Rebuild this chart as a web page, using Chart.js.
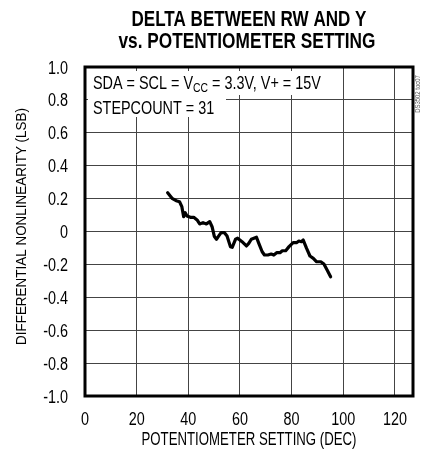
<!DOCTYPE html>
<html>
<head>
<meta charset="utf-8">
<script src="https://cdn.jsdelivr.net/npm/chart.js@4.4.1/dist/chart.umd.min.js"></script>
<style>
  html, body { margin: 0; padding: 0; background: #fff; }
  #wrap { width: 422px; height: 456px; }
</style>
</head>
<body>
<div id="wrap"><canvas id="dnlChart" width="422" height="456"></canvas></div>
<script>
// данные
const potSetting = [32.0, 33.7, 35.3, 36.6, 37.5, 38.2, 38.8, 39.5, 40.8, 42.1, 43.4, 44.4, 45.7, 47.0, 48.3, 49.2,
    50.1, 50.9, 51.8, 52.7, 54.0, 55.0, 56.3, 57.0, 58.3, 59.1, 60.8, 62.5, 63.4, 64.4, 65.4, 66.4, 67.3, 68.6,
    69.5, 70.8, 72.1, 73.1, 74.2, 75.5, 76.4, 77.7, 79.0, 80.6, 81.9, 82.8, 83.8, 84.5, 85.8, 87.1, 88.4, 89.7,
    91.3, 92.5, 93.9, 95.1];
const dnlValues = [0.236, 0.202, 0.187, 0.181, 0.151, 0.090, 0.114, 0.094, 0.086, 0.086, 0.070, 0.046, 0.054, 0.046,
    0.060, 0.029, -0.031, -0.047, -0.027, -0.007, -0.007, -0.027, -0.092, -0.096, -0.047, -0.041, -0.062, -0.088,
    -0.072, -0.047, -0.041, -0.035, -0.072, -0.123, -0.143, -0.143, -0.137, -0.143, -0.129, -0.129, -0.117, -0.117,
    -0.092, -0.068, -0.068, -0.058, -0.062, -0.052, -0.102, -0.149, -0.163, -0.184, -0.184, -0.198, -0.238, -0.275];
const xTicks = [0, 20, 40, 60, 80, 100, 120];
const yTicks = [-1.0, -0.8, -0.6, -0.4, -0.2, 0, 0.2, 0.4, 0.6, 0.8, 1.0];

const titleLines = ['DELTA BETWEEN RW AND Y', 'vs. POTENTIOMETER SETTING'];
const xTitle = 'POTENTIOMETER SETTING (DEC)';
const yTitle = 'DIFFERENTIAL NONLINEARITY (LSB)';
const FONT = '"Liberation Sans", Arial, sans-serif';
const SX = 0.8; // сжатие по горизонтали (узкий шрифт как в оригинале)

// текст, сжатый по ширине
function fillNarrow(ctx, text, x, y, align, sx) {
    const w = ctx.measureText(text).width * sx;
    let left = x;
    if (align === 'center') left = x - w / 2;
    if (align === 'right') left = x - w;
    ctx.save();
    ctx.translate(left, y);
    ctx.scale(sx, 1);
    ctx.textAlign = 'left';
    ctx.fillText(text, 0, 0);
    ctx.restore();
    return w;
}

function fmtY(v) {
    return Math.abs(v) < 1e-9 ? '0' : v.toFixed(1);
}

// ----------------------------------------------------------------------------------
// ПЛАГИН: заголовок, подписи осей, рамка, условия
// ----------------------------------------------------------------------------------
const decorPlugin = {
    id: 'decor',
    beforeDatasetsDraw(chart) {
        const { ctx, chartArea } = chart;
        ctx.save();
        // белая подложка под текстом условий
        ctx.fillStyle = '#fff';
        ctx.fillRect(chartArea.left + 3, chartArea.top + 4, 248, 24);
        ctx.fillRect(chartArea.left + 3, chartArea.top + 27, 138, 23);
        ctx.restore();
    },
    afterDraw(chart) {
        const { ctx, chartArea, scales } = chart;
        const cx = (chartArea.left + chartArea.right) / 2;
        const cy = (chartArea.top + chartArea.bottom) / 2;
        ctx.save();
        ctx.fillStyle = '#000';
        ctx.textBaseline = 'alphabetic';

        // заголовок
        ctx.font = 'bold 22px ' + FONT;
        fillNarrow(ctx, titleLines[0], cx, 26, 'center', 235 / ctx.measureText(titleLines[0]).width);
        fillNarrow(ctx, titleLines[1], cx - 2, 48, 'center', 257 / ctx.measureText(titleLines[1]).width);

        // подписи делений
        ctx.font = '18px ' + FONT;
        scales.x.ticks.forEach(t => {
            fillNarrow(ctx, String(t.value), scales.x.getPixelForValue(t.value), 425, 'center', SX);
        });
        scales.y.ticks.forEach(t => {
            fillNarrow(ctx, fmtY(t.value), 68, scales.y.getPixelForValue(t.value) + 6.5, 'right', SX);
        });

        // названия осей
        fillNarrow(ctx, xTitle, cx, 445, 'center', 215 / ctx.measureText(xTitle).width);
        ctx.save();
        ctx.translate(26, cy - 5);
        ctx.rotate(-Math.PI / 2);
        ctx.font = '15px ' + FONT;
        fillNarrow(ctx, yTitle, 0, 0, 'center', 237 / ctx.measureText(yTitle).width);
        ctx.restore();

        // рамка
        ctx.strokeStyle = '#000';
        ctx.lineWidth = 3;
        ctx.strokeRect(chartArea.left, chartArea.top, chartArea.right - chartArea.left, chartArea.bottom - chartArea.top);

        // условия измерения
        ctx.font = '18px ' + FONT;
        let x = chartArea.left + 8;
        const y1 = chartArea.top + 22;
        x += fillNarrow(ctx, 'SDA = SCL = V', x, y1, 'left', SX);
        ctx.font = '13px ' + FONT;
        x += fillNarrow(ctx, 'CC', x, y1 + 3, 'left', SX);
        ctx.font = '18px ' + FONT;
        fillNarrow(ctx, ' = 3.3V, V+ = 15V', x, y1, 'left', SX);
        fillNarrow(ctx, 'STEPCOUNT = 31', chartArea.left + 8, chartArea.top + 47, 'left', SX);

        // номер рисунка
        ctx.save();
        ctx.translate(chartArea.right + 5, chartArea.top + 27);
        ctx.rotate(-Math.PI / 2);
        ctx.font = '7px ' + FONT;
        ctx.fillStyle = '#555';
        ctx.textBaseline = 'middle';
        fillNarrow(ctx, 'DS3502 toc07', 0, 0, 'center', 0.85);
        ctx.restore();

        ctx.restore();
    }
};

// ----------------------------------------------------------------------------------
// ГРАФИК
// ----------------------------------------------------------------------------------
const points = potSetting.map((x, i) => ({ x: x, y: dnlValues[i] }));

const ctx = document.getElementById('dnlChart').getContext('2d');
new Chart(ctx, {
    type: 'line',
    data: {
        datasets: [{
            data: points,
            borderColor: '#000',
            borderWidth: 3.2,
            borderJoinStyle: 'round',
            borderCapStyle: 'round',
            pointRadius: 0,
            tension: 0,
            fill: false
        }]
    },
    options: {
        responsive: false,
        animation: false,
        events: [],
        layout: { padding: { top: 67, right: 9, bottom: 0, left: 0 } },
        plugins: {
            legend: { display: false },
            title: { display: false },
            tooltip: { enabled: false }
        },
        scales: {
            x: {
                type: 'linear',
                min: 0,
                max: 127,
                afterBuildTicks: scale => { scale.ticks = xTicks.map(v => ({ value: v })); },
                afterFit: scale => { scale.height = 60; },
                grid: { color: '#444', lineWidth: 1, drawTicks: false },
                border: { display: false },
                ticks: { display: false }
            },
            y: {
                type: 'linear',
                min: -1,
                max: 1,
                afterBuildTicks: scale => { scale.ticks = yTicks.map(v => ({ value: v })); },
                afterFit: scale => { scale.width = 85; },
                grid: { color: '#444', lineWidth: 1, drawTicks: false },
                border: { display: false },
                ticks: { display: false }
            }
        }
    },
    plugins: [decorPlugin]
});
</script>
</body>
</html>
